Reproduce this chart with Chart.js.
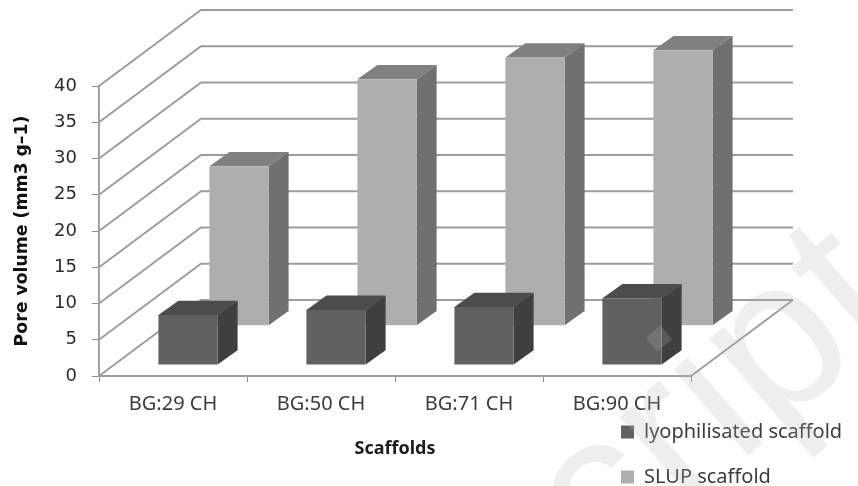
<!DOCTYPE html>
<html>
<head>
<meta charset="utf-8">
<style>
  html, body { margin: 0; padding: 0; background: #fff; }
  canvas { display: block; filter: blur(0.45px); }
</style>
<script src="https://cdn.jsdelivr.net/npm/chart.js@4/dist/chart.umd.min.js"></script>
</head>
<body>
<canvas id="poreChart" width="858" height="486"></canvas>
<script>
const categories = ['BG:29 CH', 'BG:50 CH', 'BG:71 CH', 'BG:90 CH'];
const lyophilisated = [6.9, 7.6, 8, 9.2];
const slup = [22, 34, 37, 38];

const wallDepth = { x: 102, y: -76 };
const barDepth = { x: 20, y: -14.3 };
// where each series stands on the floor, front face
const seriesShift = [{ x: 15, y: -11 }, { x: 66, y: -50.3 }];
const seriesSide = [{ top: '#4c4c4c', side: '#3f3f3f' }, { top: '#808080', side: '#707070' }];

function poly(ctx, pts, color) {
    ctx.fillStyle = color;
    ctx.beginPath();
    pts.forEach((p, i) => i ? ctx.lineTo(p[0], p[1]) : ctx.moveTo(p[0], p[1]));
    ctx.closePath();
    ctx.fill();
}

const depthPlugin = {
    id: 'depth',
    beforeDatasetsDraw(chart) {
        const { ctx, scales } = chart;
        const x0 = scales.x.left, x1 = scales.x.right;
        ctx.save();
        ctx.lineWidth = 1.9;
        ctx.strokeStyle = '#9c9c9c';
        scales.y.ticks.forEach(t => {
            const y = scales.y.getPixelForValue(t.value);
            ctx.beginPath();
            ctx.moveTo(x0, y);
            ctx.lineTo(x0 + wallDepth.x, y + wallDepth.y);
            ctx.lineTo(x1 + wallDepth.x, y + wallDepth.y);
            ctx.stroke();
        });
        // right edge of the floor
        const yb = scales.y.getPixelForValue(0);
        ctx.beginPath();
        ctx.moveTo(x1, yb);
        ctx.lineTo(x1 + wallDepth.x, yb + wallDepth.y);
        ctx.stroke();
        ctx.restore();
    },
    beforeDatasetDraw(chart, args) {
        const ctx = chart.ctx;
        const shift = seriesShift[args.index];
        const faces = seriesSide[args.index];
        ctx.save();
        ctx.translate(shift.x, shift.y);
        args.meta.data.forEach(bar => {
            const l = bar.x - bar.width / 2, r = bar.x + bar.width / 2;
            poly(ctx, [[l, bar.y], [r, bar.y], [r + barDepth.x, bar.y + barDepth.y], [l + barDepth.x, bar.y + barDepth.y]], faces.top);
            poly(ctx, [[r, bar.y], [r + barDepth.x, bar.y + barDepth.y], [r + barDepth.x, bar.base + barDepth.y], [r, bar.base]], faces.side);
        });
    },
    afterDatasetDraw(chart) {
        chart.ctx.restore();
    },
    afterLayout(chart) {
        // legend sits under the plot, bottom right
        const legend = chart.legend;
        const pad = legend.options.labels.padding;
        legend.left = 621 - pad;
        legend.right = 858;
        legend.top = 422 - pad;
        legend.bottom = 560;
        legend.width = legend.right - legend.left;
        legend.height = legend.bottom - legend.top;
    },
    afterDraw(chart) {
        // faint watermark across the lower right corner
        const ctx = chart.ctx;
        ctx.save();
        ctx.translate(521, 653);
        ctx.rotate(-41 * Math.PI / 180);
        ctx.font = '215px "Liberation Sans"';
        ctx.fillStyle = 'rgba(180,180,180,0.23)';
        ctx.fillText('script', 0, 0);
        ctx.restore();
    }
};

new Chart(document.getElementById('poreChart'), {
    type: 'bar',
    plugins: [depthPlugin],
    data: {
        labels: categories,
        datasets: [
            { label: 'lyophilisated scaffold', data: lyophilisated, backgroundColor: '#606060', clip: false },
            { label: 'SLUP scaffold', data: slup, backgroundColor: '#aeaeae', clip: false }
        ]
    },
    options: {
        responsive: false,
        animation: false,
        layout: { padding: { top: 86, right: 167 } },
        datasets: { bar: { grouped: false, barPercentage: 0.4, categoryPercentage: 1 } },
        plugins: {
            tooltip: { enabled: false },
            legend: {
                position: 'chartArea',
                align: 'start',
                labels: {
                    boxWidth: 13,
                    boxHeight: 13,
                    padding: 25,
                    color: '#3c3c3c',
                    font: { family: '"Noto Sans"', size: 20 }
                }
            }
        },
        scales: {
            x: {
                afterFit(scale) { scale.height = 110; },
                grid: { drawOnChartArea: false, tickLength: 6, tickColor: '#8c8c8c' },
                border: { color: '#9c9c9c', width: 1.9 },
                ticks: { color: '#3c3c3c', padding: 10, maxRotation: 0, font: { family: '"Noto Sans"', size: 20 } },
                title: {
                    display: true,
                    text: 'Scaffolds',
                    color: '#1c1c1c',
                    padding: { top: 0, bottom: 26 },
                    font: { family: '"Noto Sans"', size: 18, weight: 'bold' }
                }
            },
            y: {
                min: 0,
                max: 40,
                afterFit(scale) { scale.width = 99; },
                grid: { drawOnChartArea: false, tickLength: 7, tickColor: '#8c8c8c' },
                border: { color: '#9c9c9c', width: 1.9 },
                ticks: { stepSize: 5, color: '#2c2c2c', padding: 15, font: { family: '"DejaVu Sans"', size: 18 } },
                title: {
                    display: true,
                    text: 'Pore volume (mm3 g\u20131)',
                    color: '#111',
                    padding: { top: 12, bottom: 0 },
                    font: { family: '"DejaVu Sans"', size: 17.3, weight: 'bold' }
                }
            }
        }
    }
});
</script>
</body>
</html>
